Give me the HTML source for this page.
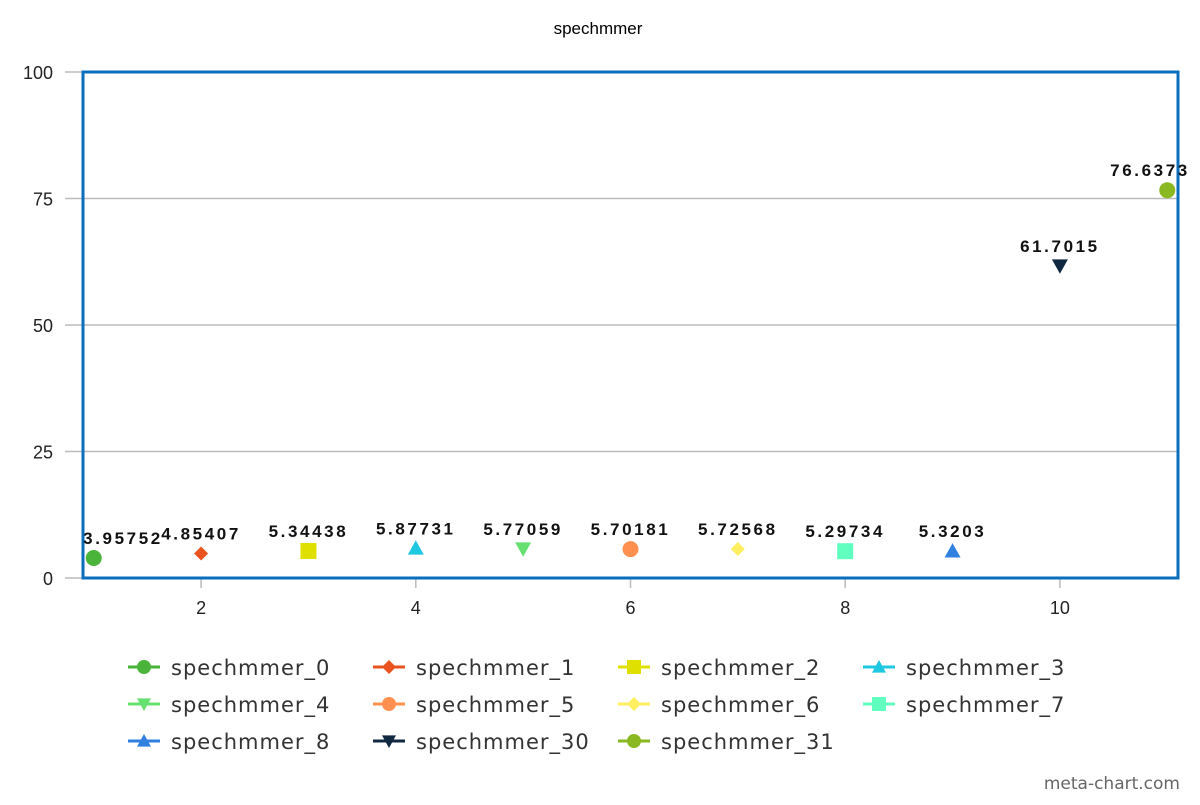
<!DOCTYPE html>
<html><head><meta charset="utf-8"><style>
body{margin:0;background:#fff;width:1200px;height:800px;overflow:hidden;font-family:"Liberation Sans","DejaVu Sans",sans-serif}
</style></head><body>
<svg id="c" width="1200" height="800" xmlns="http://www.w3.org/2000/svg">
<text x="598" y="34" text-anchor="middle" font-size="17" fill="#000">spechmmer</text>
<g id="grid"></g><g id="axes"></g><g id="marks"></g><g id="legend"></g>
<text x="1180" y="789" text-anchor="end" font-size="17" fill="#666" font-family="DejaVu Sans, sans-serif">meta-chart.com</text>
</svg>
<script>
const seriesNames=["spechmmer_0","spechmmer_1","spechmmer_2","spechmmer_3","spechmmer_4","spechmmer_5","spechmmer_6","spechmmer_7","spechmmer_8","spechmmer_30","spechmmer_31"];
const xValues=[1,2,3,4,5,6,7,8,9,10,11];
const yValues=[3.95752,4.85407,5.34438,5.87731,5.77059,5.70181,5.72568,5.29734,5.3203,61.7015,76.6373];
const valueLabels=["3.95752","4.85407","5.34438","5.87731","5.77059","5.70181","5.72568","5.29734","5.3203","61.7015","76.6373"];
const colors=["#4ab43a","#e9531d","#e0e000","#1ec8e0","#66e070","#ff9050","#ffef60","#60ffc0","#3080e0","#102840","#8ab820"];
const shapes=["circle","diamond","square","up","down","circle","diamond","square","up","down","circle"];
const yTicks=[0,25,50,75,100];
const xTicks=[2,4,6,8,10];
const NS="http://www.w3.org/2000/svg";
const L=83,R=1178,T=72,B=578;
const xs=v=>L+(v-0.9)/(11.1-0.9)*(R-L);
const ys=v=>B-v/100*(B-T);
function mk(p,t,a){const e=document.createElementNS(NS,t);for(const k in a)e.setAttribute(k,a[k]);p.appendChild(e);return e;}
const grid=document.getElementById('grid'),axes=document.getElementById('axes'),marks=document.getElementById('marks'),leg=document.getElementById('legend');
yTicks.forEach(v=>{
 const y=ys(v);
 const ln=mk(grid,'line',{x1:65,x2:R,y1:y,y2:y,stroke:'#bbb','stroke-width':1.5});
 
 
 const t=mk(axes,'text',{x:53,y:y+7,'text-anchor':'end','font-size':18,fill:'#222'});t.textContent=v;
 
 
});
xTicks.forEach(v=>{
 const x=xs(v);
 const ln=mk(axes,'line',{x1:x,x2:x,y1:B,y2:B+10,stroke:'#bbb','stroke-width':1.5});
 
 
 const t=mk(axes,'text',{x:x,y:B+36,'text-anchor':'middle','font-size':18,fill:'#222'});t.textContent=v;
 
 
});
const frame=mk(axes,'rect',{x:L,y:T,width:R-L,height:B-T,fill:'none',stroke:'#0a6ebd','stroke-width':3});


function shape(p,s,x,y,c,r){
 if(s==='circle')return mk(p,'circle',{cx:x,cy:y,r:r,fill:c});
 if(s==='square')return mk(p,'rect',{x:x-r,y:y-r,width:2*r,height:2*r,fill:c});
 if(s==='diamond')return mk(p,'polygon',{points:`${x},${y-r} ${x+r},${y} ${x},${y+r} ${x-r},${y}`,fill:c});
 if(s==='up')return mk(p,'polygon',{points:`${x},${y-r} ${x+r},${y+r*0.8} ${x-r},${y+r*0.8}`,fill:c});
 return mk(p,'polygon',{points:`${x},${y+r} ${x+r},${y-r*0.8} ${x-r},${y-r*0.8}`,fill:c});
}
xValues.forEach((xv,i)=>{
 const x=xs(xv),y=ys(yValues[i]);
 const m=shape(marks,shapes[i],x,y,colors[i],shapes[i]==='diamond'?7:8);
 
 
 const half=40;
 const cx=Math.min(Math.max(x,L+half),1190-half);
 const t=mk(marks,'text',{x:cx,y:y-14,'text-anchor':'middle','font-size':17,'font-weight':'bold',fill:'#111','letter-spacing':'2.6'});
 t.textContent=valueLabels[i];
 
 
});
const colX=[128,373,618,863],rowY=[667,704,741];
seriesNames.forEach((n,i)=>{
 const x=colX[i%4],y=rowY[Math.floor(i/4)];
 const g=mk(leg,'g',{});
 
 
 mk(g,'line',{x1:x,x2:x+32,y1:y,y2:y,stroke:colors[i],'stroke-width':3});
 shape(g,shapes[i],x+16,y,colors[i],7);
 const t=mk(g,'text',{x:x+43,y:y+8,'font-size':21,fill:'#333','font-family':'DejaVu Sans, sans-serif','letter-spacing':'1'});t.textContent=n;
});
</script>
</body></html>
